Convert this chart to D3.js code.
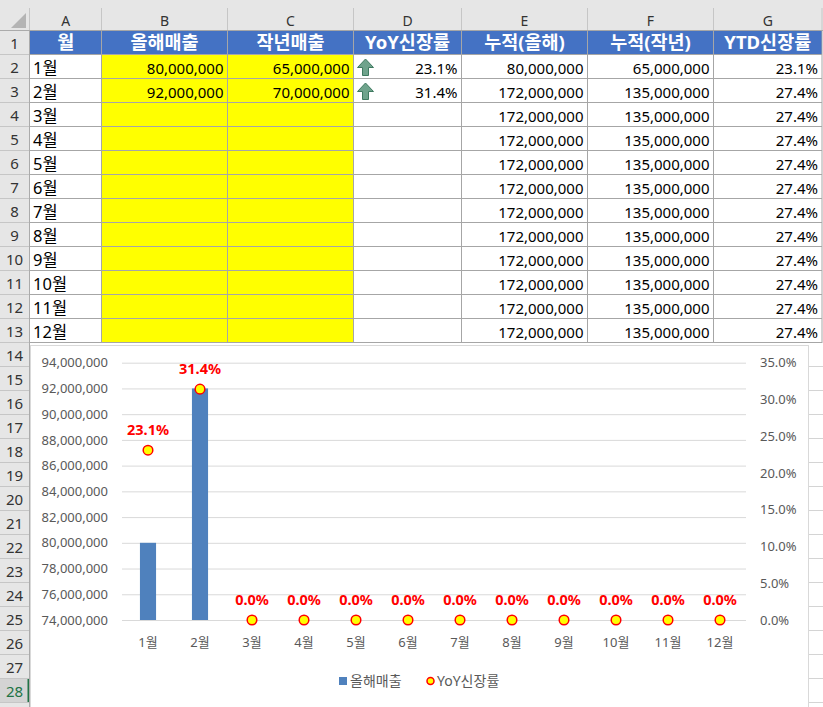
<!DOCTYPE html>
<html>
<head>
<meta charset="utf-8">
<script src="https://cdn.jsdelivr.net/npm/d3@7"></script>
<style>
  body { margin: 0; background: #fff; }
  svg { display: block; }
  text { font-family: "Noto Sans", "Noto Sans CJK KR", sans-serif; }
</style>
</head>
<body>
<svg id="sheet"></svg>
<script>
// sheet data
var colLetters = ["A", "B", "C", "D", "E", "F", "G"];
var headers = ["월", "올해매출", "작년매출", "YoY신장률", "누적(올해)", "누적(작년)", "YTD신장률"];
var months = ["1월", "2월", "3월", "4월", "5월", "6월", "7월", "8월", "9월", "10월", "11월", "12월"];
var salesThis = [80000000, 92000000, null, null, null, null, null, null, null, null, null, null];
var salesLast = [65000000, 70000000, null, null, null, null, null, null, null, null, null, null];
var yoyRate = [0.231, 0.314, 0, 0, 0, 0, 0, 0, 0, 0, 0, 0];
var cumThis = [80000000, 172000000, 172000000, 172000000, 172000000, 172000000, 172000000, 172000000, 172000000, 172000000, 172000000, 172000000];
var cumLast = [65000000, 135000000, 135000000, 135000000, 135000000, 135000000, 135000000, 135000000, 135000000, 135000000, 135000000, 135000000];
var ytdRate = [0.231, 0.274, 0.274, 0.274, 0.274, 0.274, 0.274, 0.274, 0.274, 0.274, 0.274, 0.274];

// chart axes
var leftTicks = [74000000, 76000000, 78000000, 80000000, 82000000, 84000000, 86000000, 88000000, 90000000, 92000000, 94000000];
var rightTicks = [0, 0.05, 0.10, 0.15, 0.20, 0.25, 0.30, 0.35];

var W = 823, H = 707;
var svg = d3.select("#sheet").attr("width", W).attr("height", H);

var colEdges = [30, 101.5, 227.5, 353.5, 461.5, 587.5, 713.5, 822];
var rowH = 24, top0 = 31;
function rowTop(r) { return top0 + (r - 1) * rowH; }

var fmtNum = d3.format(",");
var fmtPct = d3.format(".1%");

// ---- column header band
svg.append("rect").attr("x", 0).attr("y", 0).attr("width", W).attr("height", top0)
    .attr("fill", "#e6e6e6");
svg.append("path").attr("d", "M26,13 L26,28 L11,28 Z").attr("fill", "#b4b4b4");
colLetters.forEach(function(c, i) {
    svg.append("line")
        .attr("x1", colEdges[i + 1]).attr("x2", colEdges[i + 1])
        .attr("y1", 8).attr("y2", top0)
        .attr("stroke", "#c6c6c6");
    svg.append("text")
        .attr("x", (colEdges[i] + colEdges[i + 1]) / 2).attr("y", 26)
        .attr("text-anchor", "middle")
        .style("font-size", "14px").style("fill", "#333")
        .text(c);
});
svg.append("line").attr("x1", 29.5).attr("x2", 29.5).attr("y1", 8).attr("y2", top0).attr("stroke", "#c6c6c6");
svg.append("line").attr("x1", 0).attr("x2", W).attr("y1", top0 - 0.5).attr("y2", top0 - 0.5).attr("stroke", "#ababab");

// ---- row header band
svg.append("rect").attr("x", 0).attr("y", top0).attr("width", 29.5).attr("height", H - top0)
    .attr("fill", "#e6e6e6");
d3.range(1, 29).forEach(function(r) {
    if (r === 28) {
        svg.append("rect").attr("x", 0).attr("y", rowTop(r)).attr("width", 29.5).attr("height", rowH)
            .attr("fill", "#d4d4d4");
        svg.append("line").attr("x1", 28.5).attr("x2", 28.5)
            .attr("y1", rowTop(r)).attr("y2", rowTop(r) + rowH)
            .attr("stroke", "#217346").attr("stroke-width", 2);
    }
    svg.append("line").attr("x1", 0).attr("x2", 29.5)
        .attr("y1", rowTop(r) + rowH - 0.5).attr("y2", rowTop(r) + rowH - 0.5)
        .attr("stroke", "#c6c6c6");
    svg.append("text")
        .attr("x", 14.5).attr("y", rowTop(r) + 18)
        .attr("text-anchor", "middle")
        .style("font-size", "15px").style("fill", r === 28 ? "#217346" : "#333")
        .text(r);
});
svg.append("line").attr("x1", 29.5).attr("x2", 29.5).attr("y1", top0).attr("y2", H).attr("stroke", "#ababab");

// ---- table body
var tableRows = months.map(function(m, i) {
    return [
        m,
        salesThis[i] == null ? "" : fmtNum(salesThis[i]),
        salesLast[i] == null ? "" : fmtNum(salesLast[i]),
        salesThis[i] == null ? "" : fmtPct(yoyRate[i]),
        fmtNum(cumThis[i]),
        fmtNum(cumLast[i]),
        fmtPct(ytdRate[i])
    ];
});

// header row 1
svg.append("rect").attr("x", colEdges[0]).attr("y", rowTop(1))
    .attr("width", colEdges[7] - colEdges[0]).attr("height", rowH)
    .attr("fill", "#4472c4");
headers.forEach(function(h, i) {
    svg.append("text")
        .attr("x", (colEdges[i] + colEdges[i + 1]) / 2).attr("y", rowTop(1) + 17.5)
        .attr("text-anchor", "middle")
        .style("font-size", "18.5px").style("font-weight", "bold").style("fill", "#fff")
        .text(h);
});

// yellow input cells
svg.append("rect").attr("x", colEdges[1]).attr("y", rowTop(2))
    .attr("width", colEdges[3] - colEdges[1]).attr("height", rowH * 12)
    .attr("fill", "#ffff00");

tableRows.forEach(function(row, i) {
    var y = rowTop(i + 2);
    row.forEach(function(v, j) {
        if (v === "") return;
        var left = j === 0;
        svg.append("text")
            .attr("x", left ? colEdges[j] + 3 : colEdges[j + 1] - 4)
            .attr("y", y + 19)
            .attr("text-anchor", left ? "start" : "end")
            .style("font-size", left ? "16.5px" : "15px").style("fill", "#000")
            .text(v);
    });
    // icon-set arrow for rows with a YoY value
    if (salesThis[i] != null && yoyRate[i] > 0) {
        var ax = colEdges[3] + 4, ay = y + 4;
        svg.append("path")
            .attr("transform", "translate(" + ax + "," + ay + ")")
            .attr("d", "M8,0 L16,8.5 L11,8.5 L11,16.5 L5,16.5 L5,8.5 L0,8.5 Z")
            .attr("fill", "#6fa38c").attr("stroke", "#3f7a60").attr("stroke-width", 1);
    }
});

// grid borders of the table
var gridColor = "#a6a6a6";
d3.range(1, 15).forEach(function(r) {
    var y = rowTop(r) - 0.5;
    svg.append("line").attr("x1", colEdges[0]).attr("x2", colEdges[7])
        .attr("y1", y).attr("y2", y).attr("stroke", gridColor);
});
colEdges.slice(1).forEach(function(x) {
    svg.append("line").attr("x1", x).attr("x2", x)
        .attr("y1", rowTop(1)).attr("y2", rowTop(14))
        .attr("stroke", gridColor);
});
// light sheet grid right of chart
d3.range(14, 29).forEach(function(r) {
    svg.append("line").attr("x1", 809).attr("x2", W)
        .attr("y1", rowTop(r) + rowH - 0.5).attr("y2", rowTop(r) + rowH - 0.5)
        .attr("stroke", "#d4d4d4");
});

// ---- chart
svg.append("rect").attr("x", 30.5).attr("y", 345.5).attr("width", 778).attr("height", 400)
    .attr("fill", "#fff").attr("stroke", "#d9d9d9");

var plot = {left: 122, right: 746, top: 362.7, bottom: 620};

var x = d3.scaleBand().domain(months).range([plot.left, plot.right])
    .paddingInner(0.69).paddingOuter(0.345);
var yL = d3.scaleLinear().domain([74000000, 94000000]).range([plot.bottom, plot.top]);
var yR = d3.scaleLinear().domain([0, 0.35]).range([plot.bottom, plot.top]);

var chart = svg.append("g");

// gridlines
chart.append("g")
    .attr("transform", "translate(" + plot.left + ",0)")
    .call(d3.axisLeft(yL).tickValues(leftTicks).tickSize(-(plot.right - plot.left)).tickFormat(""))
    .call(function(g) { g.select(".domain").remove(); })
    .call(function(g) { g.selectAll("line").attr("stroke", "#d9d9d9"); });

function styleTicks(g) {
    g.select(".domain").remove();
    g.selectAll("text").style("font-size", "13px").style("fill", "#595959")
        .style("font-family", "'Noto Sans', 'Noto Sans CJK KR', sans-serif");
}

// left axis
chart.append("g")
    .attr("transform", "translate(" + plot.left + ",0)")
    .call(d3.axisLeft(yL).tickValues(leftTicks).tickSize(0).tickPadding(14).tickFormat(fmtNum))
    .call(styleTicks);

// right axis
chart.append("g")
    .attr("transform", "translate(" + plot.right + ",0)")
    .call(d3.axisRight(yR).tickValues(rightTicks).tickSize(0).tickPadding(14).tickFormat(fmtPct))
    .call(styleTicks);

// category axis
chart.append("g")
    .attr("transform", "translate(0," + plot.bottom + ")")
    .call(d3.axisBottom(x).tickSize(0).tickPadding(18))
    .call(styleTicks);

// bars
var barData = months.map(function(m, i) { return {m: m, v: salesThis[i]}; })
    .filter(function(d) { return d.v != null; });
chart.selectAll("rect.bar")
    .data(barData)
    .enter()
    .append("rect")
        .attr("class", "bar")
        .attr("x", function(d) { return x(d.m); })
        .attr("width", x.bandwidth())
        .attr("y", function(d) { return yL(d.v); })
        .attr("height", function(d) { return yL(74000000) - yL(d.v); })
        .attr("fill", "#4f81bd");

// yoy points + labels
var ptData = months.map(function(m, i) { return {m: m, v: yoyRate[i]}; });
chart.selectAll("circle.pt")
    .data(ptData)
    .enter()
    .append("circle")
        .attr("class", "pt")
        .attr("cx", function(d) { return x(d.m) + x.bandwidth() / 2; })
        .attr("cy", function(d) { return yR(d.v); })
        .attr("r", 4.8)
        .attr("fill", "#ffff00")
        .attr("stroke", "#ff0000")
        .attr("stroke-width", 1.5);

chart.selectAll("text.lbl")
    .data(ptData)
    .enter()
    .append("text")
        .attr("class", "lbl")
        .attr("x", function(d) { return x(d.m) + x.bandwidth() / 2; })
        .attr("y", function(d) { return yR(d.v) - 15; })
        .attr("text-anchor", "middle")
        .style("font-size", "14.5px").style("font-weight", "bold").style("fill", "#ff0000")
        .text(function(d) { return fmtPct(d.v); });

// legend
var lg = chart.append("g").attr("transform", "translate(0,681)");
lg.append("rect").attr("x", 339).attr("y", -4).attr("width", 8).attr("height", 8).attr("fill", "#4f81bd");
lg.append("text").attr("x", 350).attr("y", 5)
    .style("font-size", "14px").style("fill", "#595959").text("올해매출");
lg.append("circle").attr("cx", 430.5).attr("cy", 0).attr("r", 3.5)
    .attr("fill", "#ffff00").attr("stroke", "#ff0000").attr("stroke-width", 1.5);
lg.append("text").attr("x", 437).attr("y", 5)
    .style("font-size", "14px").style("fill", "#595959").text("YoY신장률");
</script>
</body>
</html>
